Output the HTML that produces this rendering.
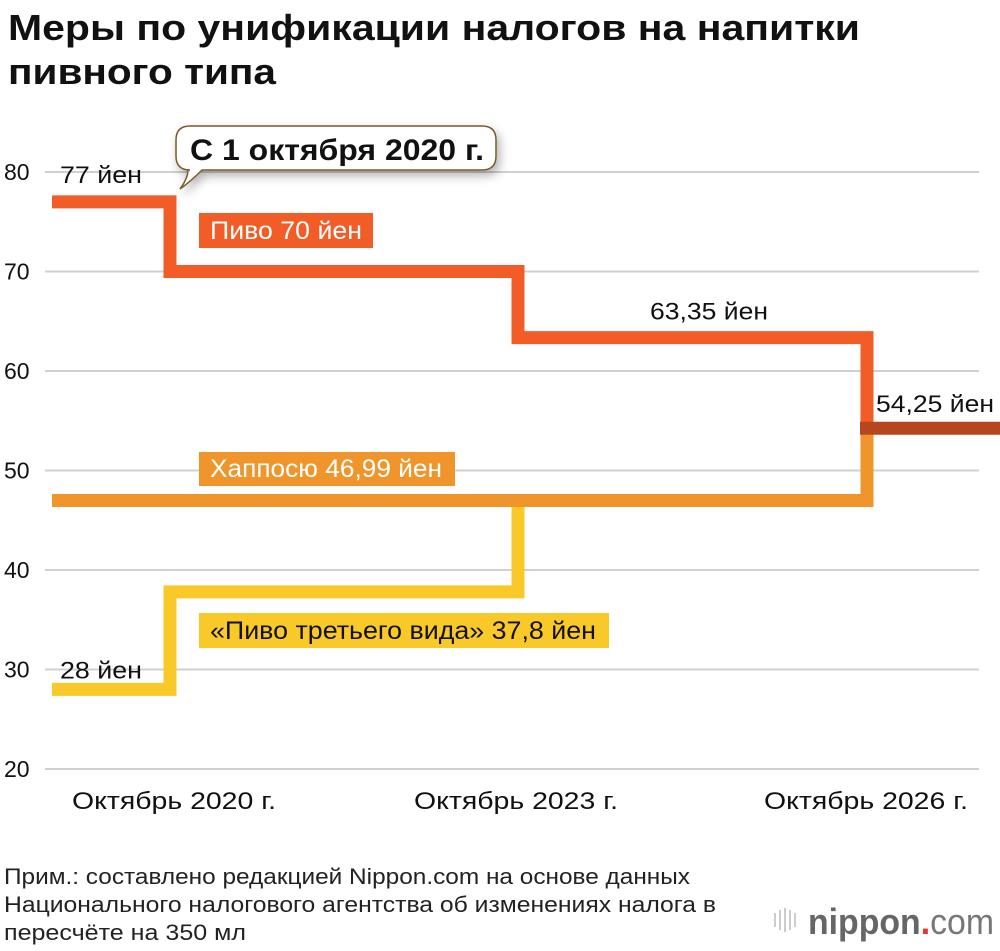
<!DOCTYPE html>
<html><head><meta charset="utf-8">
<style>
body{margin:0;background:#fff;font-family:"Liberation Sans",sans-serif;}
svg text{font-family:"Liberation Sans",sans-serif;}
</style></head>
<body>
<svg width="1000" height="946" viewBox="0 0 1000 946" xmlns="http://www.w3.org/2000/svg">
<defs><filter id="sh" x="-20%" y="-40%" width="140%" height="180%"><feDropShadow dx="3" dy="5" stdDeviation="5" flood-color="#000" flood-opacity="0.3"/></filter></defs>
<text x="8" y="40" font-size="36" font-weight="bold" fill="#111" textLength="852" lengthAdjust="spacingAndGlyphs">Меры по унификации налогов на напитки</text>
<text x="8" y="84" font-size="36" font-weight="bold" fill="#111" textLength="268" lengthAdjust="spacingAndGlyphs">пивного типа</text>
<g id="grid"></g>
<g id="yticks"></g>
<g id="xticks"></g>
<g id="series"></g>
<g filter="url(#sh)">
<path d="M190,126 H482 Q496,126 496,140 V156 Q496,170 482,170 H202 Q190,182 180,189 Q188,178 188,170 H190 Q176,170 176,156 V140 Q176,126 190,126 Z" fill="#fff" stroke="#7a5a2a" stroke-width="1.5"/>
</g>
<text x="190" y="160" font-size="30" font-weight="bold" fill="#111" textLength="294" lengthAdjust="spacingAndGlyphs">С 1 октября 2020 г.</text>
<g id="labels"></g>
<text x="4" y="884" font-size="22" fill="#222" textLength="686" lengthAdjust="spacingAndGlyphs">Прим.: составлено редакцией Nippon.com на основе данных</text>
<text x="4" y="912" font-size="22" fill="#222" textLength="712" lengthAdjust="spacingAndGlyphs">Национального налогового агентства об изменениях налога в</text>
<text x="4" y="940" font-size="22" fill="#222" textLength="242" lengthAdjust="spacingAndGlyphs">пересчёте на 350 мл</text>
<g>
<rect x="774" y="913" width="2" height="14" fill="#ccc"/><rect x="779" y="910" width="2" height="20" fill="#ccc"/><rect x="784" y="908" width="2" height="24" fill="#ccc"/><rect x="789" y="910" width="2" height="20" fill="#ccc"/><rect x="794" y="913" width="2" height="14" fill="#ccc"/>
<text x="808" y="934" font-size="36" font-weight="bold" fill="#666" textLength="186" lengthAdjust="spacingAndGlyphs">nippon<tspan fill="#e8322b">.</tspan><tspan font-weight="normal" fill="#777">com</tspan></text>
</g>
</svg>
<script>
const yTicks=[20,30,40,50,60,70,80];
const xLabels=["Октябрь 2020 г.","Октябрь 2023 г.","Октябрь 2026 г."];
const beer=[77,70,63.35,54.25];
const happo=[46.99,46.99,46.99,54.25];
const third=[28,37.8,46.99,54.25];
const NS="http://www.w3.org/2000/svg";
function y(v){return 172+(80-v)*9.95;}
const stepX=[52,170,518,867,1000];
function mk(tag,a,p){const e=document.createElementNS(NS,tag);for(const k in a)e.setAttribute(k,a[k]);p.appendChild(e);return e;}
const g=document.getElementById('grid'),yt=document.getElementById('yticks'),xt=document.getElementById('xticks'),s=document.getElementById('series'),lb=document.getElementById('labels');
yTicks.forEach(v=>{const l=mk('line',{x1:45,x2:979,y1:y(v),y2:y(v),stroke:'#d0d0d0','stroke-width':2},g);


const t=mk('text',{x:4,y:y(v)+8,'font-size':23,fill:'#111'},yt);t.textContent=v;

});
const xc=[174,516,866];
xLabels.forEach((lab,i)=>{const t=mk('text',{x:xc[i],y:809,'font-size':24,fill:'#111','text-anchor':'middle',textLength:204,lengthAdjust:'spacingAndGlyphs'},xt);t.textContent=lab;

});
function stepPath(vals,n){let d='M'+stepX[0]+','+y(vals[0]);for(let i=0;i<n;i++){d+=' H'+stepX[i+1];if(i+1<n)d+=' V'+y(vals[i+1]);}return d;}
function line(vals,n,col,name){const p=mk('path',{d:stepPath(vals,n),fill:'none',stroke:col,'stroke-width':13,'stroke-linejoin':'miter','stroke-linecap':'butt'},s);

}
line(third,3,'#f8c928','third-beer-line');
(function(){const p=mk('path',{d:'M52,'+y(happo[0])+' H867 V'+y(happo[3]),fill:'none',stroke:'#f0952b','stroke-width':13},s);

})();
(function(){const p=mk('path',{d:stepPath(beer,4).replace(/ H1000$/,''),fill:'none',stroke:'#f25c27','stroke-width':13},s);

})();
(function(){const p=mk('line',{x1:860,x2:1000,y1:y(beer[3]),y2:y(beer[3]),stroke:'#b5461d','stroke-width':13},s);

})();
function label(x,yy,txt,w,name){const t=mk('text',{x:x,y:yy,'font-size':24,fill:'#111',textLength:w,lengthAdjust:'spacingAndGlyphs'},lb);t.textContent=txt;

return t;}
function box(x,yy,w,h,col,txt,tw,tc,name){const r=mk('rect',{x:x,y:yy,width:w,height:h,fill:col},lb);


const t=mk('text',{x:x+11,y:yy+h-9,'font-size':25,fill:tc,textLength:tw,lengthAdjust:'spacingAndGlyphs'},lb);t.textContent=txt;

}
label(60,y(beer[0])-19,'77 йен',82,'beer-start-label');
label(650,y(beer[2])-18,'63,35 йен',118,'beer-2023-label');
label(876,y(beer[3])-16,'54,25 йен',118,'unified-label');
label(60,y(third[0])-11,'28 йен',82,'third-start-label');
box(199,213,174,35,'#f25c27','Пиво 70 йен',152,'#fff','beer-70-label');
box(199,452,256,34,'#f0952b','Хаппосю 46,99 йен',232,'#fff','happoshu-label');
box(199,613,410,35,'#f8c928','«Пиво третьего вида» 37,8 йен',386,'#111','third-beer-label');
</script>
</body></html>
